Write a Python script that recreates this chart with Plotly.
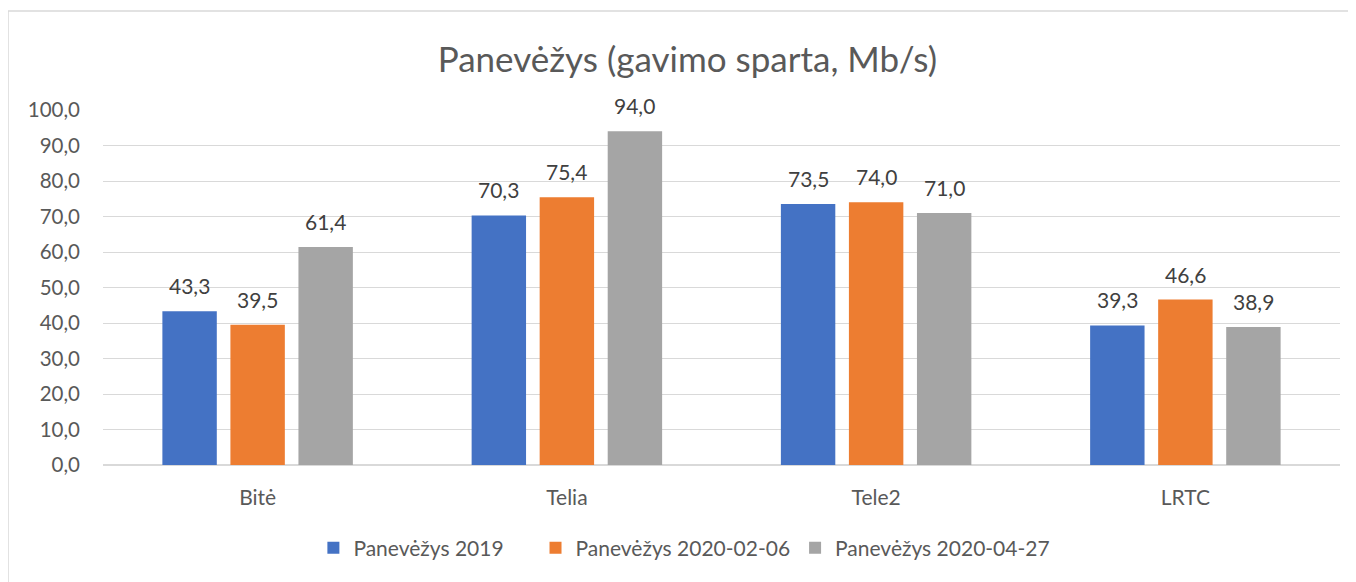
import plotly.graph_objects as go

categories = ["Bitė", "Telia", "Tele2", "LRTC"]
series_names = ["Panevėžys 2019", "Panevėžys 2020-02-06", "Panevėžys 2020-04-27"]
v2019 = [43.3, 70.3, 73.5, 39.3]
v0206 = [39.5, 75.4, 74.0, 46.6]
v0427 = [61.4, 94.0, 71.0, 38.9]
colors = ["#4472C4", "#ED7D31", "#A5A5A5"]
tick_vals = [0, 10, 20, 30, 40, 50, 60, 70, 80, 90, 100]

# page body has an 8px margin, so the figure is laid out 8px smaller
W, H = 1348, 574
L, R, T, B = 95, 16, 102, 117
BARGAP = 0.34
GROUPGAP = 0.2
FONT = "Lato"
LEGEND_PADS = [5, 0, 0]

pw = W - L - R
ph = H - T - B
all_series = [v2019, v0206, v0427]
n = len(all_series)
slot = (1 - BARGAP) / n

fig = go.Figure()
annotations = []
for j, (name, vals, c) in enumerate(zip(series_names, all_series, colors)):
    label = name + "\u00a0" * LEGEND_PADS[j]
    fig.add_trace(go.Bar(
        x=categories, y=vals, name=label,
        marker=dict(color=c, line=dict(width=0)),
    ))
    for i, v in enumerate(vals):
        annotations.append(dict(
            x=i + (j - (n - 1) / 2) * slot, y=v, xref="x", yref="y",
            text=f"{v:.1f}".replace(".", ","), showarrow=False,
            yanchor="bottom", yshift=12, borderpad=0,
            font=dict(size=21, color="#404040", family=FONT),
        ))

fig.update_layout(
    width=W, height=H,
    margin=dict(l=L, r=R, t=T, b=B),
    paper_bgcolor="white", plot_bgcolor="white",
    separators=", ",
    font=dict(family=FONT, color="#595959", size=21),
    title=dict(text="Panevėžys (gavimo sparta, Mb/s)", x=0.504, xanchor="center",
               y=1 - 52 / H, yanchor="middle",
               font=dict(size=35, color="#595959", family=FONT)),
    barmode="group", bargap=BARGAP, bargroupgap=GROUPGAP,
    showlegend=True,
    legend=dict(orientation="h", x=0.47, xanchor="center", y=-83 / ph, yanchor="middle",
                font=dict(size=21, color="#595959", family=FONT), itemwidth=30,
                traceorder="normal"),
    xaxis=dict(showgrid=False, showline=False, ticks="", ticklabelstandoff=18,
               tickfont=dict(size=21, color="#595959")),
    yaxis=dict(range=[0, 100], tickvals=tick_vals, tickformat=".1f", showgrid=True,
               gridcolor="#D9D9D9", gridwidth=1, zeroline=True, zerolinecolor="#D9D9D9",
               showline=False, ticks="", ticklabelstandoff=22,
               tickfont=dict(size=20.5, color="#595959")),
    annotations=annotations,
    shapes=[dict(type="rect", xref="paper", yref="paper",
                 x0=(0 - L) / pw, x1=(1400 - L) / pw,
                 y0=-(650 - T - ph) / ph, y1=1 + (T - 3) / ph,
                 line=dict(color="#D9D9D9", width=1.5), fillcolor="rgba(0,0,0,0)", layer="below")],
)

fig.write_html("out.html")
